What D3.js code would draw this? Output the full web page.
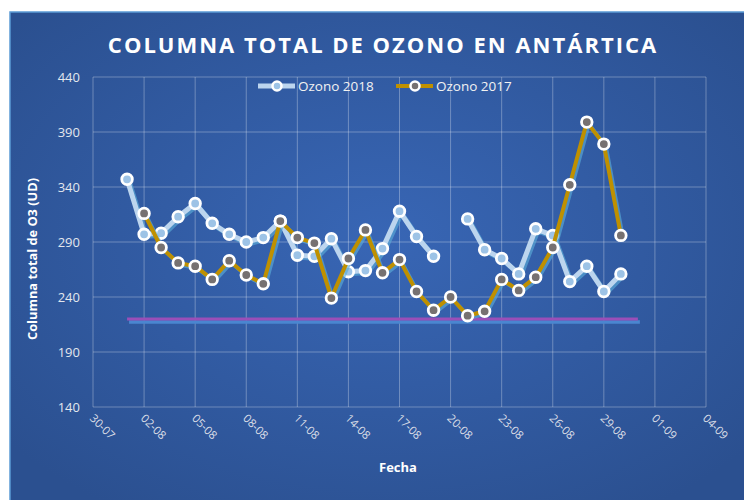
<!DOCTYPE html>
<html lang="es">
<head>
<meta charset="UTF-8">
<script src="https://cdn.jsdelivr.net/npm/d3@7"></script>
<title>Columna total de ozono</title>
<style>
    body { margin: 0; background: #fff; }
    svg text { font-family: "Open Sans", "Noto Sans", sans-serif; }
</style>
</head>
<body>
<div id="chart"></div>
<script>
// ---------------- data ----------------
const fechas = ["01-08","02-08","03-08","04-08","05-08","06-08","07-08","08-08","09-08","10-08",
                "11-08","12-08","13-08","14-08","15-08","16-08","17-08","18-08","19-08","20-08",
                "21-08","22-08","23-08","24-08","25-08","26-08","27-08","28-08","29-08","30-08"]
const ozono2018 = [347,297,298,313,325,307,297,290,294,309,
                   278,277,293,263,264,284,318,295,277,null,
                   311,283,275,261,302,296,254,268,245,261]
const ozono2017 = [null,316,285,271,268,256,273,260,252,309,
                   294,289,239,275,301,262,274,245,228,240,
                   223,227,256,246,258,285,342,399,379,296]
const umbralFechas = ["01-08","31-08"]
const umbral = [220,220]
const yTicks = [140,190,240,290,340,390,440]

// ---------------- layout ----------------
const W = 744, H = 500
const plot = {left: 93, right: 706, top: 77, bottom: 407}
const parse = d3.timeParse("%d-%m-%Y")
const toDate = s => parse(s + "-2018")

const x = d3.scaleTime()
    .domain([toDate("30-07"), toDate("04-09")])
    .range([plot.left, plot.right])
const y = d3.scaleLinear().domain([140, 440]).range([plot.bottom, plot.top])

const svg = d3.select("#chart").append("svg")
    .attr("width", W).attr("height", H)

const defs = svg.append("defs")
const grad = defs.append("radialGradient").attr("id", "bg")
    .attr("cx", "50%").attr("cy", "45%").attr("r", "65%")
grad.append("stop").attr("offset", "0%").attr("stop-color", "#3866b5")
grad.append("stop").attr("offset", "100%").attr("stop-color", "#2b5090")

svg.append("rect").attr("x", 10).attr("y", 12).attr("width", W).attr("height", H)
    .attr("fill", "url(#bg)").attr("stroke", "#5b9bd5").attr("stroke-width", 1.5)

// title
svg.append("text").attr("x", 383).attr("y", 53).attr("text-anchor", "middle")
    .attr("fill", "#fff").attr("font-size", 22).attr("font-weight", "bold")
    .attr("letter-spacing", 2)
    .text("COLUMNA TOTAL DE OZONO EN ANTÁRTICA")

// grid
const xTicks = d3.timeDay.range(toDate("30-07"), d3.timeDay.offset(toDate("04-09"), 1), 3)
svg.append("g").selectAll("line").data(yTicks).join("line")
    .attr("x1", plot.left).attr("x2", plot.right)
    .attr("y1", d => y(d)).attr("y2", d => y(d))
    .attr("stroke", "rgba(255,255,255,0.3)").attr("stroke-width", 1)
svg.append("g").selectAll("line").data(xTicks).join("line")
    .attr("x1", d => x(d)).attr("x2", d => x(d))
    .attr("y1", plot.top).attr("y2", plot.bottom)
    .attr("stroke", "rgba(255,255,255,0.3)").attr("stroke-width", 1)

// y axis labels
svg.append("g").selectAll("text").data(yTicks).join("text")
    .attr("x", 80).attr("y", d => y(d) + 5).attr("text-anchor", "end")
    .attr("fill", "#e3e7ee").attr("font-size", 13)
    .text(d => d)

// x axis labels (rotated)
const fmt = d3.timeFormat("%d-%m")
svg.append("g").selectAll("text").data(xTicks).join("text")
    .attr("transform", d => `translate(${x(d) - 4},${plot.bottom + 12}) rotate(45)`)
    .attr("fill", "#d9dde6").attr("font-size", 11.5)
    .text(d => fmt(d))

// axis titles
svg.append("text").attr("x", 398).attr("y", 472).attr("text-anchor", "middle")
    .attr("fill", "#fff").attr("font-size", 13).attr("font-weight", "bold")
    .text("Fecha")
svg.append("text").attr("transform", "translate(37,259) rotate(-90)")
    .attr("text-anchor", "middle").attr("fill", "#fff")
    .attr("font-size", 12.8).attr("font-weight", "bold")
    .text("Columna total de O3 (UD)")

// ---------------- series ----------------
const line = d3.line()
    .defined(d => d.v !== null)
    .x(d => x(toDate(d.f)))
    .y(d => y(d.v))

const serie = (fs, vs) => fs.map((f, i) => ({f: f, v: vs[i]}))
const s2018 = serie(fechas, ozono2018)
const s2017 = serie(fechas, ozono2017)
const sUmbral = serie(umbralFechas, umbral)

const shadow = "rgba(90,170,215,0.65)"

// threshold line + shadow
svg.append("path").datum(sUmbral).attr("d", line)
    .attr("transform", "translate(2,3)")
    .attr("fill", "none").attr("stroke", "#4a86d0").attr("stroke-width", 3.5)
svg.append("path").datum(sUmbral).attr("d", line)
    .attr("fill", "none").attr("stroke", "#9a4fb8").attr("stroke-width", 3)

function drawSeries(data, lineColor, lineWidth, markerFill) {
    svg.append("path").datum(data).attr("d", line)
        .attr("transform", "translate(2,2)")
        .attr("fill", "none").attr("stroke", shadow).attr("stroke-width", lineWidth)
        .attr("stroke-linejoin", "round")
    svg.append("path").datum(data).attr("d", line)
        .attr("fill", "none").attr("stroke", lineColor).attr("stroke-width", lineWidth)
        .attr("stroke-linejoin", "round")
    svg.append("g").selectAll("circle").data(data.filter(d => d.v !== null)).join("circle")
        .attr("cx", d => x(toDate(d.f))).attr("cy", d => y(d.v))
        .attr("r", 5.3)
        .attr("fill", markerFill).attr("stroke", "#fff").attr("stroke-width", 2.8)
}

drawSeries(s2018, "#bcd5ee", 5, "#9dc3e6")
drawSeries(s2017, "#bf9000", 4, "#767171")

// ---------------- legend ----------------
const legend = [
    {name: "Ozono 2018", x: 258, color: "#bcd5ee", width: 5, fill: "#9dc3e6"},
    {name: "Ozono 2017", x: 396, color: "#bf9000", width: 4, fill: "#767171"}
]
const lg = svg.append("g").selectAll("g").data(legend).join("g")
    .attr("transform", d => `translate(${d.x},86)`)
lg.append("line").attr("x1", 0).attr("x2", 37)
    .attr("stroke", d => d.color).attr("stroke-width", d => d.width)
lg.append("circle").attr("cx", 19).attr("r", 4.5)
    .attr("fill", d => d.fill).attr("stroke", "#fff").attr("stroke-width", 2.5)
lg.append("text").attr("x", 40).attr("y", 5)
    .attr("fill", "#f2f2f2").attr("font-size", 13.5)
    .text(d => d.name)
</script>
</body>
</html>
